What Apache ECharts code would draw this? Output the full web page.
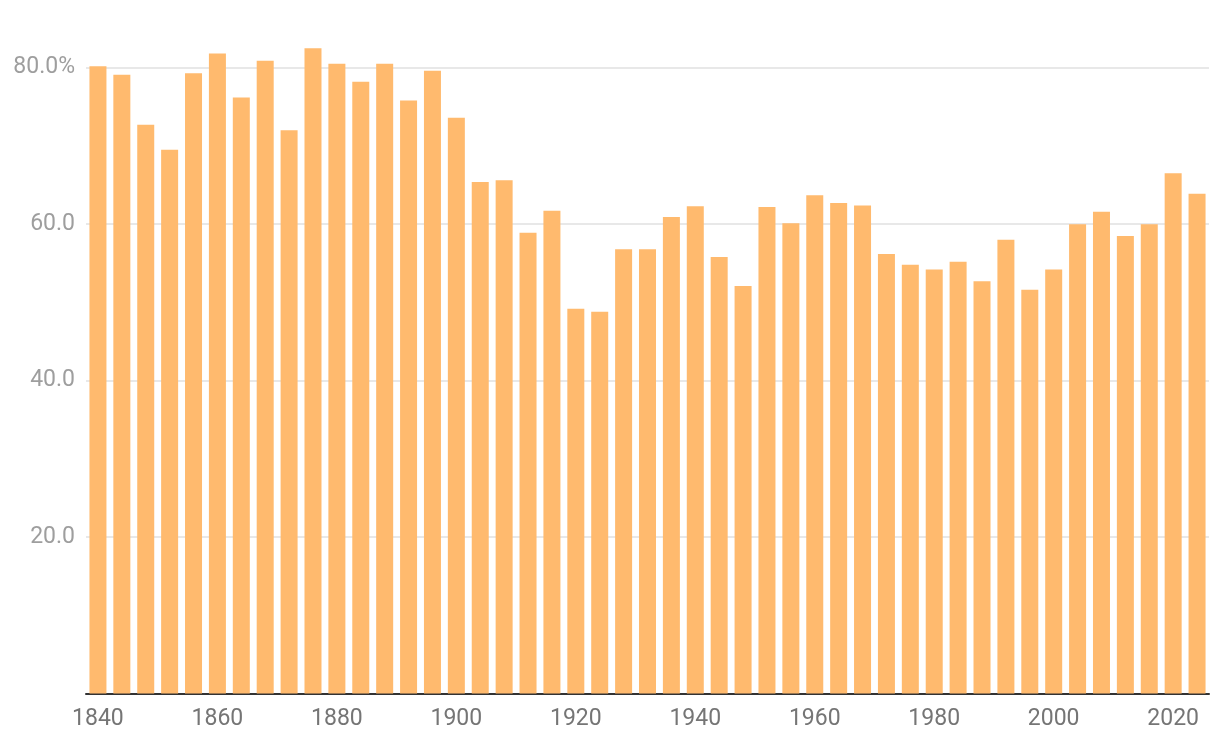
<!DOCTYPE html>
<html>
<head>
<meta charset="utf-8">
<script src="https://cdn.jsdelivr.net/npm/echarts@6/dist/echarts.min.js"></script>
<style>
html,body{margin:0;padding:0;background:#fff;}
#chart{width:1220px;height:750px;}
</style>
</head>
<body>
<div id="chart"></div>
<script>
const years = [1840,1844,1848,1852,1856,1860,1864,1868,1872,1876,1880,1884,1888,1892,1896,1900,
1904,1908,1912,1916,1920,1924,1928,1932,1936,1940,1944,1948,1952,1956,1960,1964,1968,1972,1976,
1980,1984,1988,1992,1996,2000,2004,2008,2012,2016,2020,2024];
const turnout = [80.2,79.1,72.7,69.5,79.3,81.8,76.2,80.9,72.0,82.5,80.5,78.2,80.5,75.8,79.6,73.6,
65.4,65.6,58.9,61.7,49.2,48.8,56.8,56.8,60.9,62.3,55.8,52.1,62.2,60.1,63.7,62.7,62.4,56.2,54.8,
54.2,55.2,52.7,58.0,51.6,54.2,60.0,61.6,58.5,60.0,66.5,63.9];
const yTicks = [0,20,40,60,80];

const chart = echarts.init(document.getElementById('chart'));
chart.setOption({
  animation:false,
  backgroundColor:'#ffffff',
  grid:{left:86,right:11,top:67.7,bottom:56.5,containLabel:false},
  xAxis:{
    type:'category',
    data:years.map(String),
    boundaryGap:true,
    axisLine:{show:true,lineStyle:{color:'#333333',width:2}},
    axisTick:{show:false},
    axisLabel:{interval:4,color:'#757575',fontSize:23,fontFamily:'Roboto',margin:14},
    splitLine:{show:false}
  },
  yAxis:{
    type:'value',
    min:yTicks[0],
    max:yTicks[yTicks.length-1],
    interval:20,
    axisLine:{show:false},
    axisTick:{show:false},
    axisLabel:{
      color:'#9e9e9e',fontSize:23,fontFamily:'Roboto',margin:11,padding:[6,0,0,0],
      formatter:function(v){ if(v===0) return ''; return v===80 ? v.toFixed(1)+'%' : v.toFixed(1); }
    },
    splitLine:{show:true,lineStyle:{color:'#e8e8e8',width:2}}
  },
  series:[{
    type:'bar',
    data:turnout,
    barWidth:17,
    clip:false,
    itemStyle:{color:'#FFBA6E'}
  }]
});
</script>
</body>
</html>
